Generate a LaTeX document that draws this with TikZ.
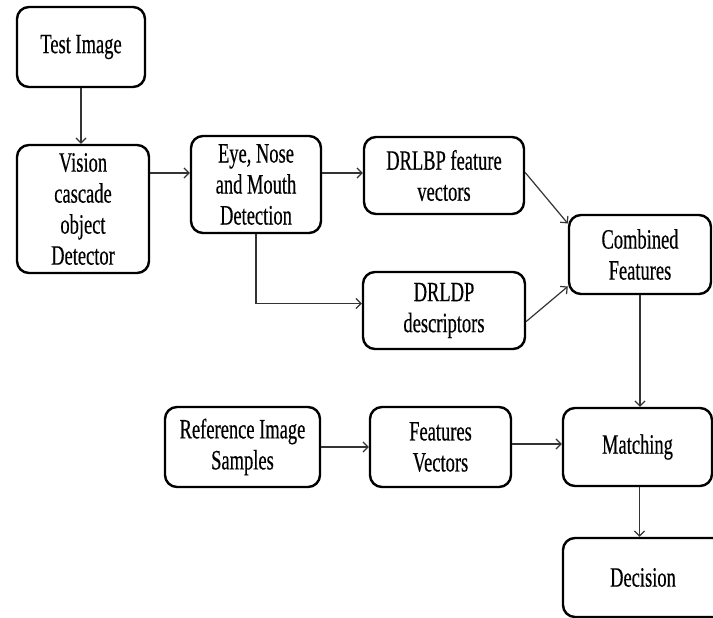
\documentclass[tikz,border=0pt]{standalone}
\usepackage{fontspec}
\setmainfont{Liberation Serif}[FakeStretch=0.66,FakeBold=0.4]
\usetikzlibrary{arrows.meta,calc}
\begin{document}
\begin{tikzpicture}[x=1pt,y=-1pt,
  box/.style={draw=black,line width=2.4pt,rounded corners=12pt,align=center,inner sep=0pt,
    font=\fontsize{28}{31}\selectfont,fill=white},
  arr/.style={draw=black!80,line width=1.2pt,-{Straight Barb[length=5pt,width=10pt,line width=1.2pt]}}]
\clip (0,0) rectangle (713,618);
\fill[white] (0,0) rectangle (713,618);
\node[box,minimum width=128pt,minimum height=80pt] (test) at (81,47) {Test Image};
\node[box,minimum width=132pt,minimum height=128pt] (vision) at (83,209) {Vision\\cascade\\object\\Detector};
\node[box,minimum width=130pt,minimum height=97pt] (eye) at (256,184.5) {Eye, Nose\\and Mouth\\Detection};
\node[box,minimum width=160pt,minimum height=77pt] (drlbp) at (444,175.5) {DRLBP feature\\vectors};
\node[box,minimum width=162pt,minimum height=77pt] (drldp) at (444,310.5) {DRLDP\\descriptors};
\node[box,minimum width=142pt,minimum height=79pt] (comb) at (640,254.5) {Combined\\Features};
\node[box,minimum width=155pt,minimum height=80pt] (ref) at (242.5,447) {Reference Image\\Samples};
\node[box,minimum width=141pt,minimum height=80pt] (feat) at (440.5,447) {Features\\Vectors};
\node[box,minimum width=149pt,minimum height=78pt] (match) at (637.5,447) {Matching};
\node[box,minimum width=166pt,minimum height=79pt] (dec) at (646,577.5) {\hspace*{-6pt}Decision};
\coordinate (row) at (0,173);
\coordinate (ms) at ($(match.south)+(2,0)$);
\draw[arr] (test.south) -- (test.south |- vision.north);
\draw[arr] (vision.east |- row) -- (eye.west |- row);
\draw[arr] (eye.east |- row) -- (drlbp.west |- row);
\draw[arr] (eye.south) |- ($(drldp.west)+(0,-7)$);
\draw[arr] ($(drlbp.east)+(0,-3)$) -- ($(comb.west)+(0,-31)$);
\draw[arr] ($(drldp.east)+(0,11)$) -- ($(comb.west)+(0,32)$);
\draw[arr] (comb.south) -- (comb.south |- match.north);
\draw[arr] (ms) -- (ms |- dec.north);
\draw[arr] (ref.east) -- (feat.west);
\draw[arr] ($(feat.east)+(0,-3)$) -- ($(match.west)+(0,-3)$);
\end{tikzpicture}
\end{document}
